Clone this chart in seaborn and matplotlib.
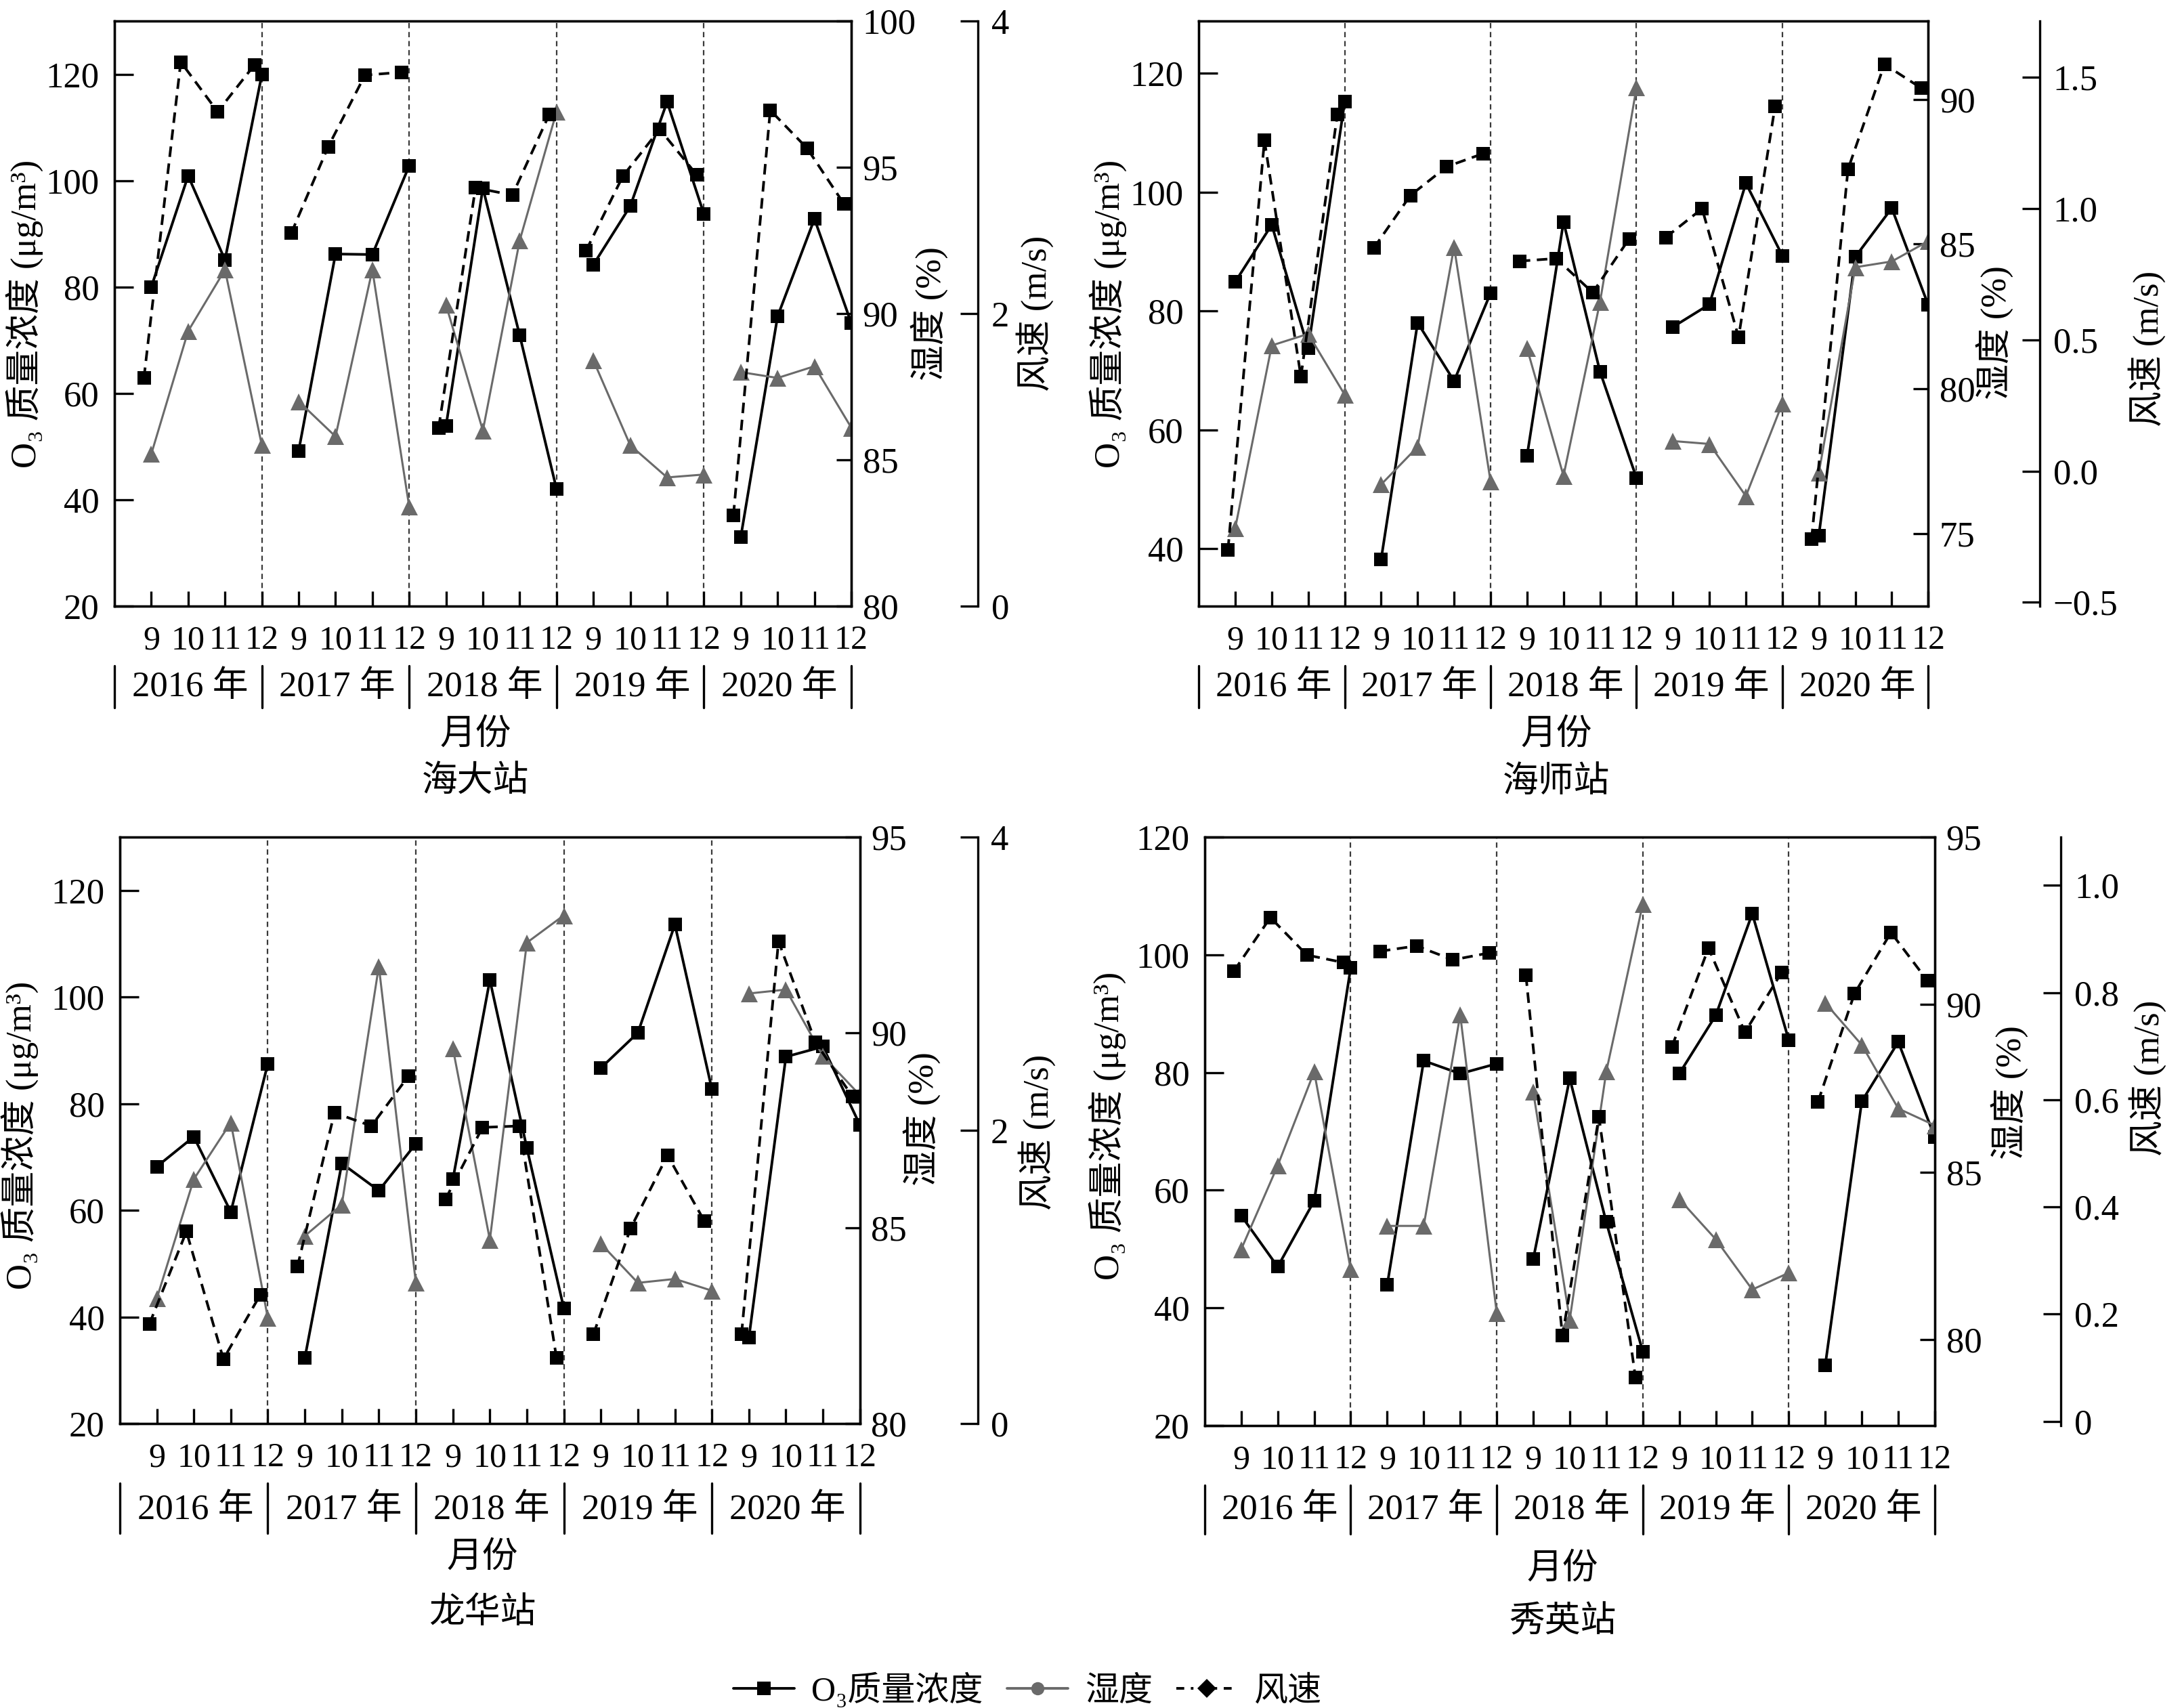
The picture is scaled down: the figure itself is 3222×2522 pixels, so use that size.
import numpy as np
import pandas as pd
import matplotlib
matplotlib.use("Agg")
import matplotlib.pyplot as plt
import matplotlib.transforms as mtrans
from matplotlib.lines import Line2D
import seaborn as sns

# ---------------- data ----------------
years = ["2016", "2017", "2018", "2019", "2020"]
months = ["9", "10", "11", "12"]
stations = ["海大站", "海师站", "龙华站", "秀英站"]

o3_haida = [80.0, 100.9, 85.1, 119.9, 49.2, 86.2, 86.1, 102.8, 53.9, 98.6, 70.9, 42.0,
            84.2, 95.2, 114.8, 93.7, 33.0, 74.5, 92.8, 73.2]
hum_haida = [85.2, 89.4, 91.5, 85.5, 87.0, 85.8, 91.5, 83.4, 90.3, 86.0, 92.5, 96.9,
             88.4, 85.5, 84.4, 84.5, 88.0, 87.8, 88.2, 86.1]
wind_haida = [1.56, 3.72, 3.38, 3.70, 2.55, 3.14, 3.63, 3.65, 1.22, 2.86, 2.81, 3.36,
              2.43, 2.94, 3.26, 2.95, 0.62, 3.39, 3.13, 2.75]

o3_haishi = [84.9, 94.5, 73.7, 115.2, 38.2, 78.0, 68.2, 83.0, 55.6, 95.0, 69.8, 51.9,
             77.3, 81.1, 101.5, 89.3, 42.2, 89.1, 97.3, 81.0]
hum_haishi = [75.2, 81.5, 81.9, 79.8, 76.7, 78.0, 84.9, 76.8, 81.4, 77.0, 83.0, 90.4,
              78.2, 78.1, 76.3, 79.5, 77.1, 84.2, 84.4, 85.1]
wind_haishi = [-0.30, 1.26, 0.36, 1.36, 0.85, 1.05, 1.16, 1.21, 0.80, 0.81, 0.68, 0.885,
               0.89, 1.00, 0.51, 1.39, -0.26, 1.15, 1.55, 1.46]

o3_longhua = [68.2, 73.8, 59.7, 87.5, 32.3, 68.8, 63.7, 72.5, 65.8, 103.2, 71.7, 41.6,
              86.7, 93.3, 113.6, 82.7, 36.1, 88.8, 90.7, 76.0]
hum_longhua = [83.2, 86.25, 87.7, 82.7, 84.8, 85.6, 91.7, 83.6, 89.6, 84.7, 92.3, 93.0,
               84.6, 83.6, 83.7, 83.4, 91.0, 91.1, 89.4, 88.4]
wind_longhua = [0.68, 1.31, 0.44, 0.88, 1.07, 2.12, 2.03, 2.37, 1.53, 2.02, 2.03, 0.45,
                0.61, 1.33, 1.83, 1.38, 0.61, 3.29, 2.60, 2.23]

o3_xiuying = [55.7, 47.0, 58.2, 97.8, 43.9, 82.0, 79.8, 81.5, 48.3, 79.0, 54.6, 32.6,
              79.8, 89.7, 107.0, 85.5, 30.3, 75.1, 85.2, 69.0]
hum_xiuying = [82.7, 85.2, 88.0, 82.1, 83.4, 83.4, 89.7, 80.8, 87.4, 80.6, 88.0, 93.0,
               84.2, 83.0, 81.5, 82.0, 90.05, 88.8, 86.9, 86.4]
wind_xiuying = [0.84, 0.94, 0.87, 0.856, 0.877, 0.887, 0.861, 0.874, 0.832, 0.16, 0.568, 0.082,
                0.699, 0.883, 0.726, 0.837, 0.596, 0.798, 0.912, 0.822]

o3_ticks = [[20, 40, 60, 80, 100, 120], [40, 60, 80, 100, 120],
            [20, 40, 60, 80, 100, 120], [20, 40, 60, 80, 100, 120]]
hum_ticks = [[80, 85, 90, 95, 100], [75, 80, 85, 90], [80, 85, 90, 95], [80, 85, 90, 95]]
wind_ticks = [[0, 2, 4], [-0.5, 0.0, 0.5, 1.0, 1.5], [0, 2, 4], [0, 0.2, 0.4, 0.6, 0.8, 1.0]]
wind_ticklabels = [["0", "2", "4"], ["\u22120.5", "0.0", "0.5", "1.0", "1.5"], ["0", "2", "4"],
                   ["0", "0.2", "0.4", "0.6", "0.8", "1.0"]]

o3_label = "O\u2083 质量浓度 (μg/m\u00b3)"
hum_label = "湿度 (%)"
wind_label = "风速 (m/s)"
x_title = "月份"
legend_labels = ["O\u2083质量浓度", "湿度", "风速"]

series = [(o3_haida, hum_haida, wind_haida), (o3_haishi, hum_haishi, wind_haishi),
          (o3_longhua, hum_longhua, wind_longhua), (o3_xiuying, hum_xiuying, wind_xiuying)]

# ---------------- layout / style ----------------
FIG_W, FIG_H = 3222, 2522
DPI = 200
GRAY = "#6a6a6a"
FS = 19
WIND_SHIFT = -0.2

panels = [
    dict(rect=[0.05245, 0.6451, 0.3377, 0.3426], o3lim=(20, 130), humlim=(80, 100), wlim=(0, 4),
         woff=1.172, o3lab=(-0.122, 0.5), humlab=(1.106, 0.5), wlab=(1.249, 0.5),
         txt=(120, 88, 150, 190, 260)),
    dict(rect=[0.5494, 0.6451, 0.3343, 0.3426], o3lim=(30.3, 128.8), humlim=(72.5, 92.7),
         wlim=(-0.515, 1.715), woff=1.153, o3lab=(-0.124, 0.5), humlab=(1.091, 0.468),
         wlab=(1.30, 0.44), txt=(120, 88, 150, 190, 260)),
    dict(rect=[0.0549, 0.1665, 0.3392, 0.3434], o3lim=(20, 130), humlim=(80, 95), wlim=(0, 4),
         woff=1.159, o3lab=(-0.135, 0.492), humlab=(1.084, 0.52), wlab=(1.239, 0.497),
         txt=(128, 88, 162, 198, 281)),
    dict(rect=[0.5521, 0.1653, 0.3346, 0.3446], o3lim=(20, 120), humlim=(77.44, 95),
         wlim=(-0.008, 1.09), woff=1.173, o3lab=(-0.133, 0.51), humlab=(1.102, 0.566),
         wlab=(1.291, 0.59), txt=(125, 88, 160, 212, 291)),
]

sns.set_style("ticks", {"axes.edgecolor": "black", "xtick.color": "black",
                        "ytick.color": "black", "text.color": "black",
                        "axes.labelcolor": "black"})
plt.rcParams["font.family"] = ["Liberation Serif", "Noto Sans CJK SC", "DejaVu Serif"]
plt.rcParams["axes.unicode_minus"] = True
plt.rcParams["axes.linewidth"] = 1.2

fig = plt.figure(figsize=(FIG_W / DPI, FIG_H / DPI), dpi=DPI)

n = len(years) * len(months)
year_col = np.repeat(years, len(months))
month_col = np.tile(months, len(years))
xpos = np.array([years.index(y) * len(months) + months.index(m) for y, m in zip(year_col, month_col)],
                dtype=float)

for i, (p, (o3, hum, wind)) in enumerate(zip(panels, series)):
    ax = fig.add_axes(p["rect"])
    axh = ax.twinx()
    axw = ax.twinx()
    df = pd.DataFrame({"x": xpos, "xw": xpos + WIND_SHIFT, "year": year_col,
                       "o3": o3, "hum": hum, "wind": wind})

    for xv in [3, 7, 11, 15]:
        ax.axvline(xv, color="#3a3a3a", lw=0.8, ls=(0, (3.5, 2.5)), zorder=0)

    sns.lineplot(data=df, x="x", y="o3", units="year", estimator=None, ax=ax,
                 color="black", lw=1.4, marker="s", markersize=7.3,
                 markeredgewidth=0, legend=False)
    sns.lineplot(data=df, x="x", y="hum", units="year", estimator=None, ax=axh,
                 color=GRAY, lw=1.1, marker="^", markersize=9,
                 markeredgewidth=0, legend=False)
    sns.lineplot(data=df, x="xw", y="wind", units="year", estimator=None, ax=axw,
                 color="black", lw=1.4, linestyle=(0, (4, 2.5)), marker="s", markersize=7.3,
                 markeredgewidth=0, legend=False)

    ax.set_xlim(-1, 19)
    ax.set_ylim(*p["o3lim"])
    axh.set_ylim(*p["humlim"])
    axw.set_ylim(*p["wlim"])

    ax.set_xticks(np.arange(n))
    ax.set_xticklabels(month_col)
    ax.set_yticks(o3_ticks[i])
    ax.set_yticklabels([str(t) for t in o3_ticks[i]])
    axh.set_yticks(hum_ticks[i])
    axh.set_yticklabels([str(t) for t in hum_ticks[i]])
    axw.set_yticks(wind_ticks[i])
    axw.set_yticklabels(wind_ticklabels[i])

    ax.tick_params(axis="x", direction="in", length=8, width=1.2, pad=10, labelsize=FS - 1)
    ax.tick_params(axis="y", direction="in", length=10, width=1.2, pad=8, labelsize=FS)
    axh.tick_params(axis="y", direction="in", length=8, width=1.2, pad=6, labelsize=FS)
    axw.tick_params(axis="y", direction="in", length=9.5, width=1.2, pad=7, labelsize=FS)

    for s in ["left", "top", "bottom"]:
        axw.spines[s].set_visible(False)
    axw.spines["right"].set_position(("axes", p["woff"]))
    for a in (ax, axh, axw):
        for s in a.spines.values():
            s.set_linewidth(1.2)
            s.set_color("black")

    ax.set_xlabel("")
    axh.set_xlabel("")
    axw.set_xlabel("")
    for a, lab, key in ((ax, o3_label, "o3lab"), (axh, hum_label, "humlab"), (axw, wind_label, "wlab")):
        a.set_ylabel(lab, fontsize=FS)
        a.yaxis.set_label_coords(*p[key])
        a.yaxis.label.set_rotation_mode("anchor")
        a.yaxis.label.set_verticalalignment("center")
        a.yaxis.label.set_horizontalalignment("center")

    # year groups below the axis
    hpx = p["rect"][3] * FIG_H
    yy, b0, b1, ym, ys = [v / hpx for v in p["txt"]]
    blend = mtrans.blended_transform_factory(ax.transData, ax.transAxes)
    for xb in [-1, 3, 7, 11, 15, 19]:
        ax.plot([xb, xb], [-b0, -b1], transform=blend, clip_on=False, color="black", lw=1.2)
    for yi, yname in enumerate(years):
        ax.text(yi * 4 + 1.05, -yy, f"{yname} 年", transform=blend, ha="center", va="center",
                fontsize=FS)
    ax.text(0.49, -ym, x_title, transform=ax.transAxes, ha="center", va="center", fontsize=FS)
    ax.text(0.49, -ys, stations[i], transform=ax.transAxes, ha="center", va="center", fontsize=FS)

handles = [
    Line2D([], [], color="black", lw=1.4, marker="s", markersize=7, markeredgewidth=0),
    Line2D([], [], color=GRAY, lw=1.4, marker="o", markersize=7, markeredgewidth=0),
    Line2D([], [], color="black", lw=1.4, ls=(0, (3, 2.5, 1, 2.5)), marker="D", markersize=7,
           markeredgewidth=0),
]
fig.legend(handles, legend_labels, loc="center", bbox_to_anchor=(0.471, 0.0105), ncol=3,
           frameon=False, fontsize=FS - 1, handlelength=1.8, handletextpad=0.5, columnspacing=0.7)

fig.savefig("out.png", dpi=DPI, facecolor="white")
